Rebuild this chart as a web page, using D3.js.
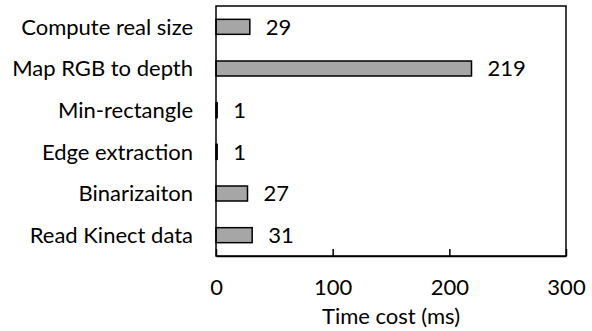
<!DOCTYPE html>
<html>
<head>
<meta charset="utf-8">
<script src="https://cdn.jsdelivr.net/npm/d3@7"></script>
<style>
  body { margin: 0; background: #fff; }
</style>
</head>
<body>
<script>
// chart data, top to bottom
let categories = ["Compute real size", "Map RGB to depth", "Min-rectangle", "Edge extraction", "Binarizaiton", "Read Kinect data"];
let values = [29, 219, 1, 1, 27, 31];
let xTicks = [0, 100, 200, 300];
let xTitle = "Time cost (ms)";

let width = 592;
let height = 331;
let marginTop = 6;
let marginRight = 26;
let marginBottom = 75;
let marginLeft = 216;
let fontFamily = "Lato, 'Open Sans', sans-serif";
let fontSize = "22px";

let data = categories.map((c, i) => ({ name: c, value: values[i] }));

let x = d3.scaleLinear()
    .domain([0, 300])
    .range([marginLeft, width - marginRight]);

let y = d3.scaleBand()
    .domain(categories)
    .range([marginTop, height - marginBottom])
    .paddingInner(0.64)
    .paddingOuter(0.32);

let svg = d3.select("body").append("svg")
    .attr("width", width)
    .attr("height", height)
    .attr("viewBox", [0, 0, width, height])
    .style("font-family", fontFamily);

// bars
svg.append("g")
    .selectAll("rect")
    .data(data)
    .join("rect")
    .attr("x", x(0))
    .attr("y", d => y(d.name))
    .attr("width", d => x(d.value) - x(0))
    .attr("height", y.bandwidth())
    .attr("fill", "#a6a6a6")
    .attr("stroke", "#000")
    .attr("stroke-width", 1.5);

// value labels
svg.append("g")
    .selectAll("text")
    .data(data)
    .join("text")
    .attr("x", d => x(d.value) + 16)
    .attr("y", d => y(d.name) + y.bandwidth() / 2)
    .attr("dy", "0.36em")
    .attr("font-size", fontSize)
    .attr("fill", "#000")
    .text(d => d.value);

// category labels
svg.append("g")
    .selectAll("text")
    .data(categories)
    .join("text")
    .attr("x", marginLeft - 23)
    .attr("y", d => y(d) + y.bandwidth() / 2)
    .attr("dy", "0.36em")
    .attr("text-anchor", "end")
    .attr("font-size", fontSize)
    .attr("fill", "#000")
    .text(d => d);

// plot frame
svg.append("rect")
    .attr("x", marginLeft)
    .attr("y", marginTop)
    .attr("width", width - marginRight - marginLeft)
    .attr("height", height - marginBottom - marginTop)
    .attr("fill", "none")
    .attr("stroke", "#000")
    .attr("stroke-width", 1.5);

// x axis, ticks pointing inward
svg.append("g")
    .attr("transform", `translate(0,${height - marginBottom})`)
    .call(d3.axisBottom(x).tickValues(xTicks).tickSize(-7).tickSizeOuter(0).tickPadding(23))
    .call(g => g.select(".domain").attr("stroke-width", 1.5))
    .call(g => g.selectAll(".tick line").attr("stroke-width", 1.5))
    .call(g => g.selectAll(".tick text")
        .attr("font-size", fontSize)
        .attr("font-family", fontFamily)
        .attr("fill", "#000"));

// axis title
svg.append("text")
    .attr("x", (marginLeft + width - marginRight) / 2)
    .attr("y", height - 7)
    .attr("text-anchor", "middle")
    .attr("font-size", fontSize)
    .attr("fill", "#000")
    .text(xTitle);
</script>
</body>
</html>
